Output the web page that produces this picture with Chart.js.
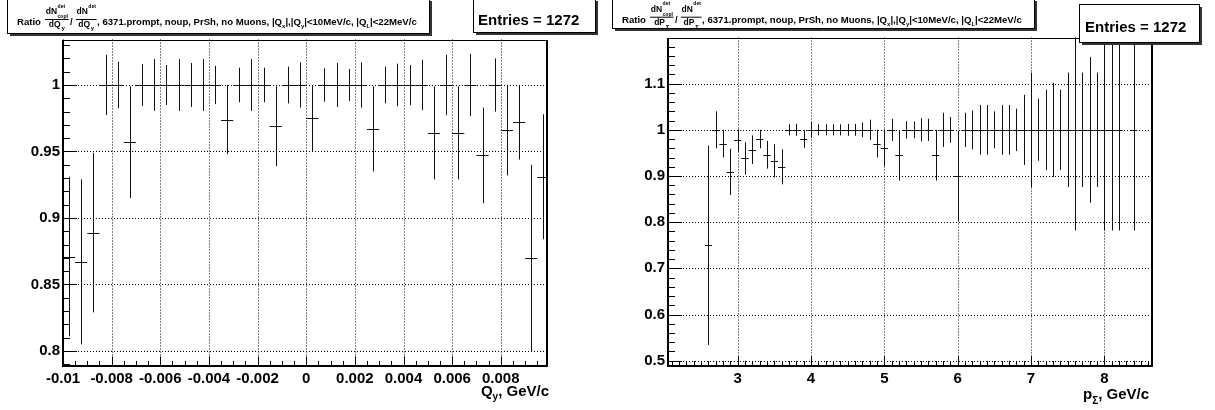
<!DOCTYPE html>
<html>
<head>
<meta charset="utf-8">
<script src="https://cdn.jsdelivr.net/npm/chart.js@4.4.1/dist/chart.umd.min.js"></script>
<style>
html,body{margin:0;padding:0;background:#fff;}
#wrap{position:relative;width:1215px;height:410px;overflow:hidden;background:#fff;}
#c1{position:absolute;left:0;top:0;}
#c2{position:absolute;left:605px;top:0;}
</style>
</head>
<body>
<div id="wrap">
<canvas id="c1" width="605" height="410"></canvas>
<canvas id="c2" width="610" height="410"></canvas>
</div>
<script>
// ---------------- data ----------------
const ENTRIES = 1272;

// Left panel: ratio vs Q_y (bins of 0.0005 GeV/c)
const QY_BIN_CENTERS = [-0.00975, -0.00925, -0.00875, -0.00825, -0.00775, -0.00725, -0.00675, -0.00625, -0.00575, -0.00525,
  -0.00475, -0.00425, -0.00375, -0.00325, -0.00275, -0.00225, -0.00175, -0.00125, -0.00075, -0.00025,
  0.00025, 0.00075, 0.00125, 0.00175, 0.00225, 0.00275, 0.00325, 0.00375, 0.00425, 0.00475,
  0.00525, 0.00575, 0.00625, 0.00675, 0.00725, 0.00775, 0.00825, 0.00875, 0.00925, 0.00975];
const QY_RATIO = [0.871, 0.867, 0.889, 1.0, 1.0, 0.957, 1.0, 1.0, 1.0, 1.0,
  1.0, 1.0, 1.0, 0.974, 1.0, 1.0, 1.0, 0.969, 1.0, 1.0,
  0.975, 1.0, 1.0, 1.0, 1.0, 0.967, 1.0, 1.0, 1.0, 1.0,
  0.964, 1.0, 0.964, 1.0, 0.947, 1.0, 0.966, 0.972, 0.870, 0.931];
const QY_ERROR = [0.060, 0.062, 0.060, 0.0226, 0.0175, 0.042, 0.0157, 0.0195, 0.015, 0.0195,
  0.0165, 0.0195, 0.0144, 0.026, 0.013, 0.0195, 0.013, 0.030, 0.0138, 0.017,
  0.025, 0.0126, 0.0165, 0.012, 0.017, 0.032, 0.0138, 0.016, 0.015, 0.019,
  0.035, 0.0227, 0.035, 0.0233, 0.036, 0.020, 0.034, 0.028, 0.070, 0.047];
const QY_BIN_WIDTH = 0.0005;
const QY_X_TICKS = [-0.01, -0.008, -0.006, -0.004, -0.002, 0, 0.002, 0.004, 0.006, 0.008];
const QY_Y_TICKS = [0.8, 0.85, 0.9, 0.95, 1];

// Right panel: ratio vs p_Sigma (bins of 0.1 GeV/c)
const PS_BIN_CENTERS = [2.6, 2.7, 2.8, 2.9, 3.0, 3.1, 3.2, 3.3, 3.4, 3.5, 3.6, 3.7, 3.8, 3.9,
  4.0, 4.1, 4.2, 4.3, 4.4, 4.5, 4.6, 4.7, 4.8, 4.9, 5.0, 5.1, 5.2, 5.3, 5.4, 5.5, 5.6, 5.7, 5.8, 5.9,
  6.0, 6.1, 6.2, 6.3, 6.4, 6.5, 6.6, 6.7, 6.8, 6.9, 7.0, 7.1, 7.2, 7.3, 7.4, 7.5, 7.6, 7.7, 7.8, 7.9,
  8.0, 8.1, 8.2, 8.4];
const PS_RATIO = [0.750, 1.0, 0.970, 0.909, 0.977, 0.938, 0.957, 0.980, 0.946, 0.933, 0.920, 1.0, 1.0, 0.980,
  1.0, 1.0, 1.0, 1.0, 1.0, 1.0, 1.0, 1.0, 1.0, 0.970, 0.961, 1.0, 0.945, 1.0, 1.0, 1.0, 1.0, 0.945, 1.0, 1.0,
  0.900, 1.0, 1.0, 1.0, 1.0, 1.0, 1.0, 1.0, 1.0, 1.0, 1.0, 1.0, 1.0, 1.0, 1.0, 1.0, 1.0, 1.0, 1.0, 1.0,
  1.0, 1.0, 1.0, 1.0];
const PS_ERROR = [0.216, 0.040, 0.030, 0.050, 0.024, 0.035, 0.031, 0.020, 0.030, 0.036, 0.038, 0.012, 0.013, 0.019,
  0.017, 0.012, 0.012, 0.012, 0.012, 0.013, 0.013, 0.016, 0.022, 0.030, 0.040, 0.024, 0.055, 0.019, 0.018, 0.025, 0.024, 0.055, 0.037, 0.028,
  0.097, 0.037, 0.042, 0.054, 0.054, 0.040, 0.054, 0.054, 0.046, 0.076, 0.124, 0.067, 0.087, 0.102, 0.087, 0.124, 0.218, 0.124, 0.158, 0.124,
  0.218, 0.218, 0.218, 0.218];
const PS_BIN_WIDTH = 0.1;
const PS_X_TICKS = [3, 4, 5, 6, 7, 8];
const PS_Y_TICKS = [0.5, 0.6, 0.7, 0.8, 0.9, 1, 1.1];

// ---------------- drawing helpers ----------------
const FONT = '"Liberation Sans", Arial, Helvetica, sans-serif';
function setFont(ctx, size) { ctx.font = 'bold ' + size + 'px ' + FONT; }
function txt(ctx, s, x, y, size) { setFont(ctx, size); ctx.fillText(s, x, y); return ctx.measureText(s).width; }
function wid(ctx, s, size) { setFont(ctx, size); return ctx.measureText(s).width; }

function drawGrid(chart) {
  const ctx = chart.ctx, a = chart.chartArea, xs = chart.scales.x, ys = chart.scales.y;
  ctx.save();
  ctx.strokeStyle = '#000'; ctx.lineWidth = 1; ctx.setLineDash([1, 2]);
  xs.ticks.forEach(t => {
    const x = Math.round(xs.getPixelForValue(t.value)) + 0.5;
    ctx.beginPath(); ctx.moveTo(x, a.top); ctx.lineTo(x, a.bottom); ctx.stroke();
  });
  ys.ticks.forEach(t => {
    const y = Math.round(ys.getPixelForValue(t.value)) + 0.5;
    ctx.beginPath(); ctx.moveTo(a.left, y); ctx.lineTo(a.right, y); ctx.stroke();
  });
  ctx.restore();
}

function drawErrors(chart, centers, vals, errs, bw) {
  const ctx = chart.ctx, a = chart.chartArea, xs = chart.scales.x, ys = chart.scales.y;
  ctx.save();
  ctx.beginPath(); ctx.rect(a.left, a.top, a.right - a.left, a.bottom - a.top); ctx.clip();
  ctx.strokeStyle = '#111'; ctx.lineWidth = 1;
  for (let i = 0; i < centers.length; i++) {
    const px = Math.round(xs.getPixelForValue(centers[i])) + 0.5;
    const pl = xs.getPixelForValue(centers[i] - bw / 2);
    const pr = xs.getPixelForValue(centers[i] + bw / 2);
    const py = Math.round(ys.getPixelForValue(vals[i])) + 0.5;
    const pt = ys.getPixelForValue(vals[i] + errs[i]);
    const pb = ys.getPixelForValue(vals[i] - errs[i]);
    ctx.beginPath();
    ctx.moveTo(pl, py); ctx.lineTo(pr, py);
    ctx.moveTo(px, pt); ctx.lineTo(px, pb);
    ctx.stroke();
  }
  ctx.restore();
}

// inward ROOT-style ticks: origin is a major tick value, k runs kMin..kMax
function drawTicks(chart, axis, origin, step, kMin, kMax, majorEvery, majorLen, minorLen) {
  const ctx = chart.ctx, a = chart.chartArea, s = chart.scales[axis];
  ctx.save(); ctx.strokeStyle = '#000'; ctx.lineWidth = 1;
  for (let k = kMin; k <= kMax; k++) {
    const v = origin + k * step;
    const major = (((k % majorEvery) + majorEvery) % majorEvery) === 0;
    const len = major ? majorLen : minorLen;
    ctx.beginPath();
    if (axis === 'x') {
      const x = Math.round(s.getPixelForValue(v)) + 0.5;
      if (x < a.left - 1 || x > a.right + 1) continue;
      ctx.moveTo(x, a.bottom); ctx.lineTo(x, a.bottom - len);
    } else {
      const y = Math.round(s.getPixelForValue(v)) + 0.5;
      if (y < a.top - 1 || y > a.bottom + 1) continue;
      ctx.moveTo(a.left, y); ctx.lineTo(a.left + len, y);
    }
    ctx.stroke();
  }
  ctx.restore();
}

function drawFrame(chart) {
  const ctx = chart.ctx, a = chart.chartArea;
  ctx.save(); ctx.strokeStyle = '#000';
  const L = Math.round(a.left), R = Math.round(a.right), T = Math.round(a.top), B = Math.round(a.bottom);
  ctx.lineWidth = 1;
  ctx.beginPath(); ctx.moveTo(L, T + 0.5); ctx.lineTo(R, T + 0.5); ctx.stroke();
  ctx.lineWidth = 2;
  ctx.beginPath(); ctx.moveTo(L, T); ctx.lineTo(L, B + 1); ctx.stroke();
  ctx.beginPath(); ctx.moveTo(L - 1, B); ctx.lineTo(R + 1, B); ctx.stroke();
  ctx.beginPath(); ctx.moveTo(R, T); ctx.lineTo(R, B + 1); ctx.stroke();
  ctx.restore();
}

function drawBox(ctx, x0, y0, x1, y1) {
  ctx.fillStyle = '#fff'; ctx.fillRect(x0, y0, x1 - x0, y1 - y0);
  ctx.strokeStyle = '#000'; ctx.lineWidth = 1;
  ctx.strokeRect(x0 + 0.5, y0 + 0.5, x1 - x0 - 1, y1 - y0 - 1);
  ctx.fillStyle = '#333';
  ctx.fillRect(x1, y0 + 3, 2, y1 - y0 - 1);
  ctx.fillRect(x0 + 3, y1, x1 - x0 - 1, 2);
}

function drawTitle(ctx, o) {
  drawBox(ctx, o.x0, o.y0, o.x1, o.y1);
  ctx.fillStyle = '#000'; ctx.textBaseline = 'alphabetic'; ctx.textAlign = 'left';
  const b = o.b, M = 9.6, F = 8.5, T = 5, S = 6;
  txt(ctx, 'Ratio', 17, b, M);
  function fraction(x, topSub) {
    const wN = wid(ctx, 'dN', F);
    const wSup = Math.max(wid(ctx, 'det', T), topSub ? wid(ctx, topSub, T) : 0);
    const numW = wN + 0.5 + wSup;
    const wD = wid(ctx, 'd' + o.sym, F);
    const wDs = wid(ctx, o.sub, S);
    const denW = wD + 0.8 + wDs;
    const w = Math.max(numW, denW) + 1.5;
    const nx = x + (w - numW) / 2;
    txt(ctx, 'dN', nx, b - 11, F);
    txt(ctx, 'det', nx + wN + 0.5, b - 17.3, T);
    if (topSub) txt(ctx, topSub, nx + wN + 0.5, b - 6.8, T);
    ctx.fillRect(x, b - 6, w, 1);
    const dx = x + (w - denW) / 2;
    txt(ctx, 'd' + o.sym, dx, b + 1.8, F);
    txt(ctx, o.sub, dx + wD + 0.8, b + o.subDrop, S);
    return x + w;
  }
  let x = fraction(45, 'copl');
  x += 1.5;
  x += txt(ctx, '/', x, b, M);
  x += 3;
  x = fraction(x, null);
  x += 0.5;
  x += txt(ctx, ', 6371.prompt, noup, PrSh, no Muons, |Q', x, b, M);
  x += txt(ctx, 'x', x, b + 3, 6);
  x += txt(ctx, '|,|Q', x, b, M);
  x += txt(ctx, 'y', x, b + 3, 6);
  x += txt(ctx, '|<10MeV/c, |Q', x, b, M);
  x += txt(ctx, 'L', x, b + 3, 6);
  txt(ctx, '|<22MeV/c', x, b, M);
}

function drawEntries(ctx, o) {
  drawBox(ctx, o.x0, o.y0, o.x1, o.y1);
  ctx.fillStyle = '#000'; ctx.textAlign = 'left'; ctx.textBaseline = 'alphabetic';
  txt(ctx, 'Entries = ' + ENTRIES, o.tx, o.tb, 15);
}

function drawAxisTitle(ctx, o) {
  ctx.fillStyle = '#000'; ctx.textAlign = 'left'; ctx.textBaseline = 'alphabetic';
  const w = wid(ctx, o.main, 15) + wid(ctx, o.sub, 10) + wid(ctx, ', GeV/c', 15);
  let x = o.right - w;
  x += txt(ctx, o.main, x, o.b, 15);
  x += txt(ctx, o.sub, x, o.b + o.subDrop, 10);
  txt(ctx, ', GeV/c', x, o.b, 15);
}

function makeChart(canvas, cfg) {
  const deco = {
    id: 'rootDeco',
    beforeDatasetsDraw(chart) { drawGrid(chart); },
    afterDatasetsDraw(chart) {
      drawErrors(chart, cfg.centers, cfg.vals, cfg.errs, cfg.bw);
      cfg.ticks.forEach(t => drawTicks(chart, ...t));
      drawFrame(chart);
    },
    afterDraw(chart) {
      const ctx = chart.ctx;
      ctx.save();
      drawTitle(ctx, cfg.title);
      drawEntries(ctx, cfg.entries);
      drawAxisTitle(ctx, cfg.axisTitle);
      ctx.restore();
    }
  };
  const tickFont = { family: FONT, size: 15, weight: 'bold' };
  return new Chart(canvas, {
    type: 'scatter',
    data: {
      datasets: [{
        data: cfg.centers.map((c, i) => ({ x: c, y: cfg.vals[i] })),
        pointRadius: 0, showLine: false, borderColor: '#000', backgroundColor: '#000'
      }]
    },
    options: {
      responsive: false, animation: false, devicePixelRatio: 1,
      events: [],
      layout: { padding: { top: cfg.padTop, right: cfg.padRight, left: 0, bottom: 0 } },
      plugins: { legend: { display: false }, tooltip: { enabled: false }, title: { display: false } },
      scales: {
        x: {
          type: 'linear', min: cfg.xmin, max: cfg.xmax,
          afterFit(s) { s.height = 44; },
          afterBuildTicks(s) { s.ticks = cfg.xticks.map(v => ({ value: v })); },
          ticks: { font: tickFont, color: '#000', padding: 4, maxRotation: 0, autoSkip: false, callback: v => String(v) },
          grid: { display: false, drawTicks: false },
          border: { display: false }
        },
        y: {
          type: 'linear', min: cfg.ymin, max: cfg.ymax,
          afterFit(s) { s.width = 63; },
          afterBuildTicks(s) { s.ticks = cfg.yticks.map(v => ({ value: v })); },
          ticks: { font: tickFont, color: '#000', padding: 3, autoSkip: false, callback: v => String(v) },
          grid: { display: false, drawTicks: false },
          border: { display: false }
        }
      }
    },
    plugins: [deco]
  });
}

makeChart(document.getElementById('c1'), {
  centers: QY_BIN_CENTERS, vals: QY_RATIO, errs: QY_ERROR, bw: QY_BIN_WIDTH,
  xmin: -0.01, xmax: 0.0099, ymin: 0.7887, ymax: 1.0342,
  xticks: QY_X_TICKS, yticks: QY_Y_TICKS,
  padTop: 39.5, padRight: 58,
  ticks: [['x', -0.01, 0.0005, 0, 39, 4, 9.5, 5], ['y', 0.8, 0.01, -1, 23, 5, 14, 7]],
  title: { x0: 7, y0: -2, x1: 430, y1: 34, b: 25, sym: 'Q', sub: 'y', subDrop: 4.5 },
  entries: { x0: 473, y0: -2, x1: 596, y1: 33, tx: 478, tb: 25 },
  axisTitle: { main: 'Q', sub: 'y', right: 549, b: 395.5, subDrop: 4.5 }
});

makeChart(document.getElementById('c2'), {
  centers: PS_BIN_CENTERS, vals: PS_RATIO, errs: PS_ERROR, bw: PS_BIN_WIDTH,
  xmin: 2.05, xmax: 8.65, ymin: 0.4885, ymax: 1.2,
  xticks: PS_X_TICKS, yticks: PS_Y_TICKS,
  padTop: 37.5, padRight: 63,
  ticks: [['x', 3, 0.1, -9, 56, 10, 10, 5], ['y', 0.5, 0.02, 0, 34, 5, 14, 7]],
  title: { x0: 7, y0: -2, x1: 430, y1: 29, b: 22.7, sym: 'P', sub: 'Σ', subDrop: 6 },
  entries: { x0: 474, y0: 4, x1: 595, y1: 43, tx: 480, tb: 32.3 },
  axisTitle: { main: 'p', sub: 'Σ', right: 544, b: 399, subDrop: 5 }
});
</script>
</body>
</html>
